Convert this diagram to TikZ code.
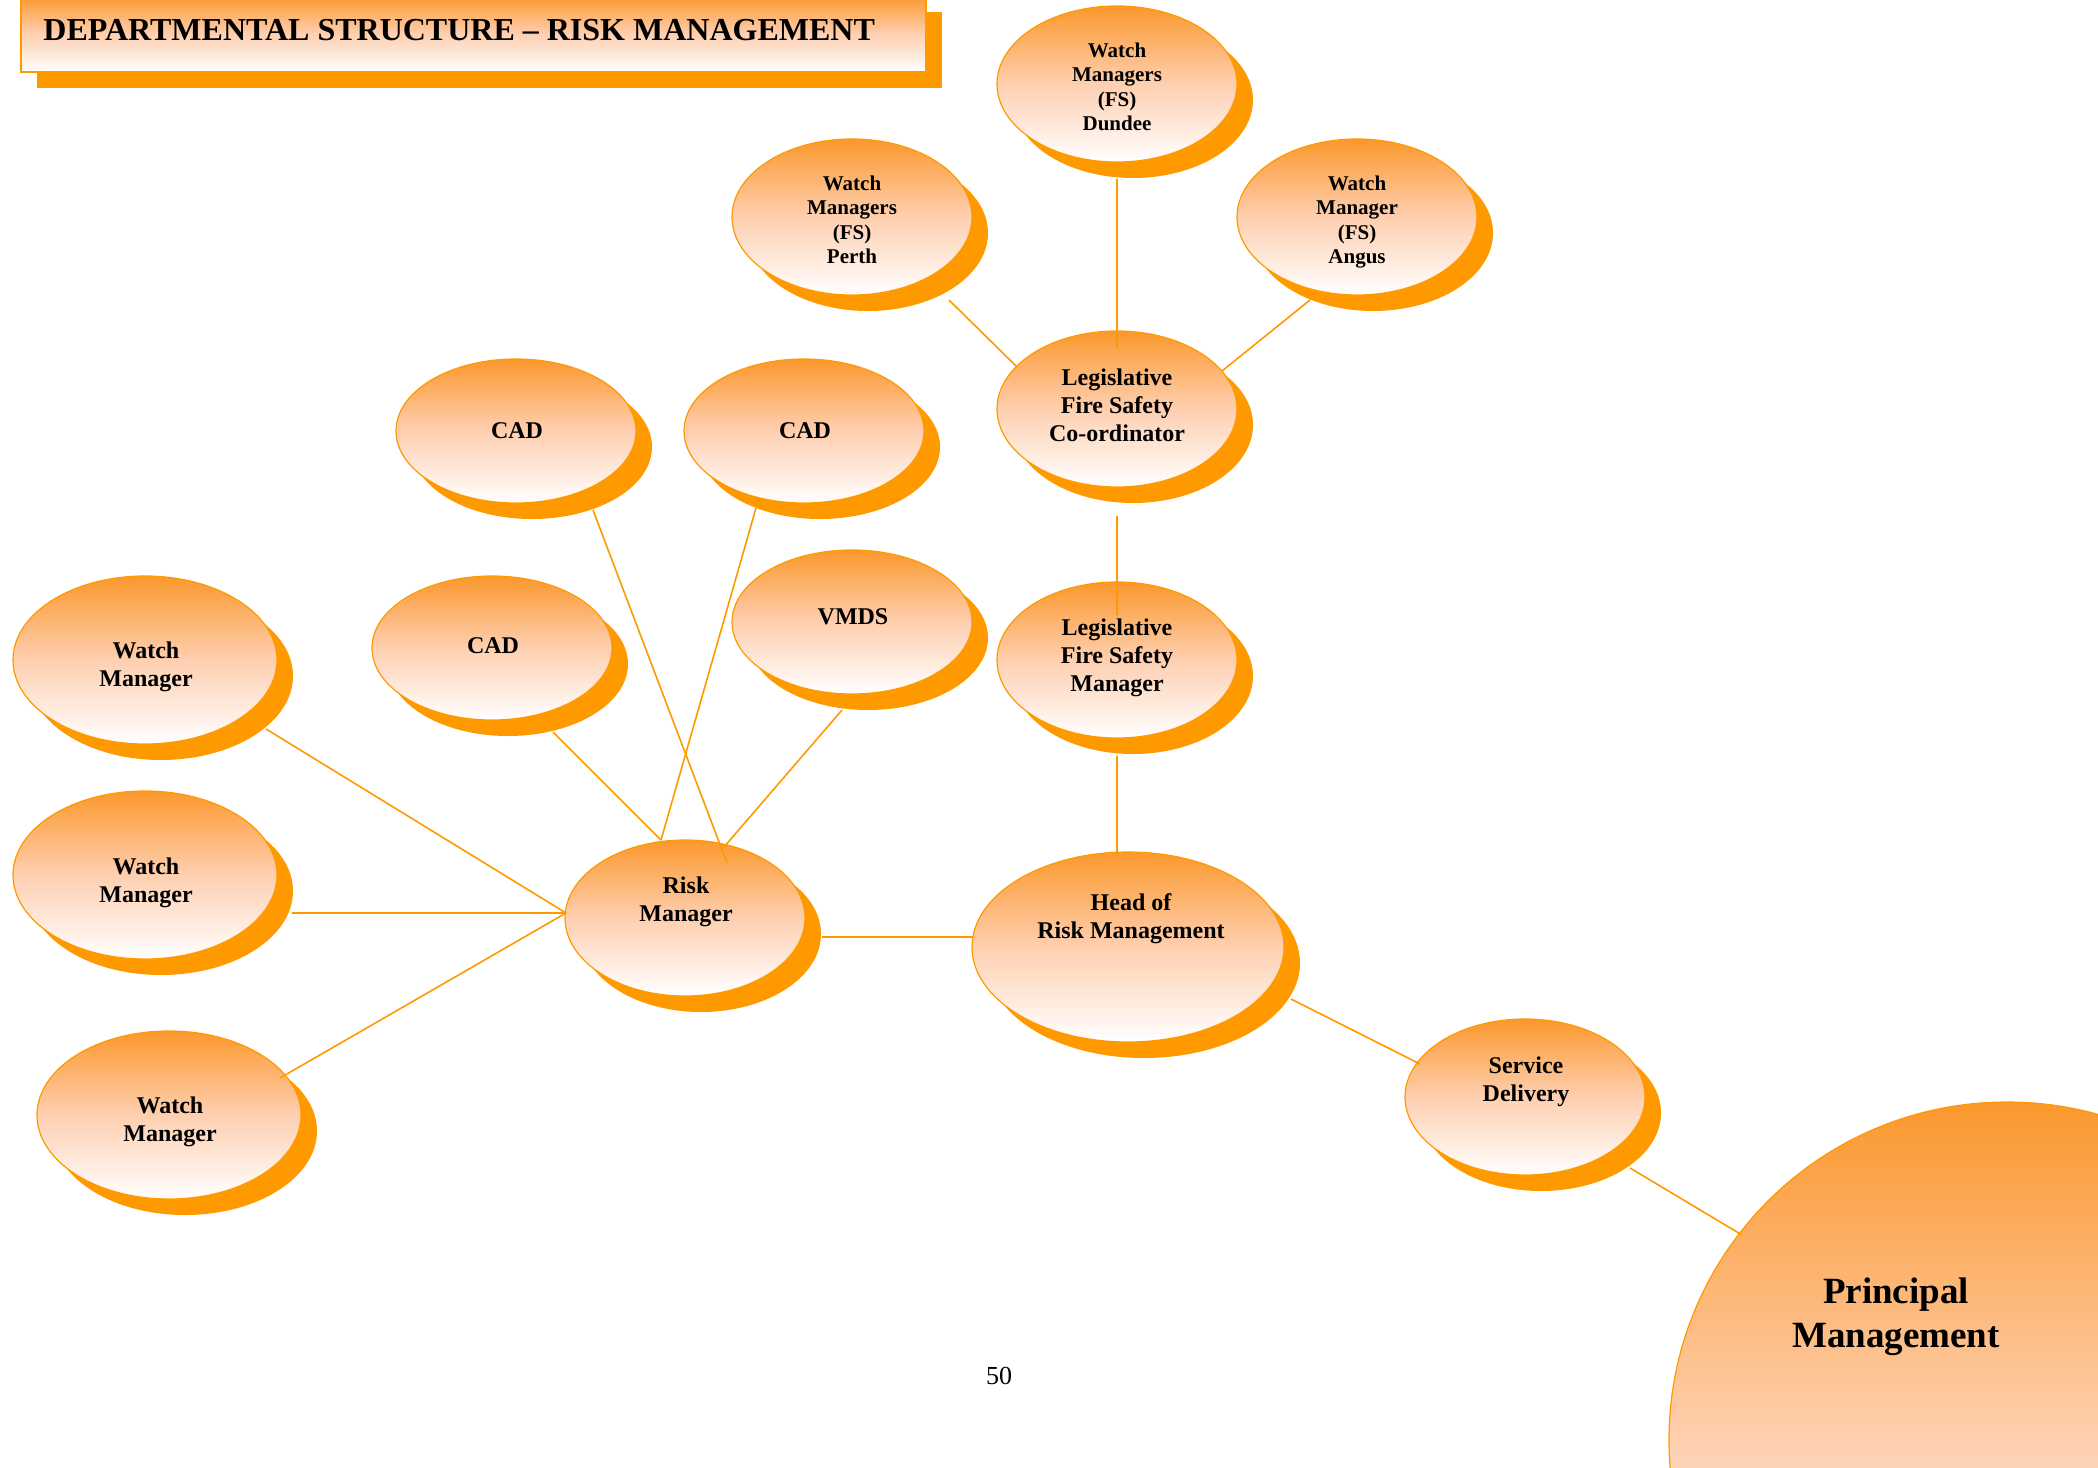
\documentclass[tikz,border=0pt]{standalone}
\usepackage{fontspec}
\setmainfont{Liberation Serif}
\usetikzlibrary{shapes.geometric,shadows}

\definecolor{orng}{RGB}{255,153,0}
\definecolor{otop}{RGB}{251,152,45}
\definecolor{peach}{RGB}{254,207,176}
\pgfdeclareverticalshading{bubble}{100bp}{color(0bp)=(white); color(25bp)=(white); color(50bp)=(peach); color(75bp)=(otop); color(100bp)=(otop)}

\tikzset{
  solidshadow/.style={general shadow={fill=orng, shadow xshift=8pt, shadow yshift=-8pt}},
  bubble/.style={ellipse, draw=orng, line width=0.6pt, shading=bubble, inner sep=0pt, solidshadow},
  std/.style={bubble, minimum width=120pt, minimum height=78pt},
  flat/.style={bubble, minimum width=120pt, minimum height=72pt},
  wide/.style={bubble, minimum width=132pt, minimum height=84pt},
  big/.style={bubble, minimum width=156pt, minimum height=95pt},
  lbl/.style={font=\bfseries\fontsize{12}{14}\selectfont, align=center, inner sep=0pt},
  lblsmall/.style={font=\bfseries\fontsize{10.5}{12.2}\selectfont, align=center, inner sep=0pt},
  link/.style={draw=orng, line width=0.8pt}
}

\begin{document}
\begin{tikzpicture}[x=0.5pt,y=-0.5pt]
\useasboundingbox (0,0) rectangle (2098,1467);
\clip (0,0) rectangle (2098,1467);

% title banner
\node[rectangle, draw=orng, line width=0.6pt, shading=bubble, solidshadow,
      minimum width=452.5pt, minimum height=38pt, inner sep=0pt] (titlebox) at (473.5,34) {};
\node[anchor=base west, inner sep=0pt, font=\bfseries\fontsize{16}{18}\selectfont] (title) at (43,40)
  {DEPARTMENTAL STRUCTURE -- RISK MANAGEMENT};

% fire safety branch
\node[std] (dundee) at (1117,84) {};
\node[lblsmall] (dundeet) at (1117,87) {Watch\\Managers\\(FS)\\Dundee};
\node[std] (perth) at (852,217) {};
\node[lblsmall] (pertht) at (852,220) {Watch\\Managers\\(FS)\\Perth};
\node[std] (angus) at (1357,217) {};
\node[lblsmall] (angust) at (1357,222) {Watch\\Manager\\(FS)\\Angus};
\node[std] (coord) at (1117,409) {};
\node[lbl] (coordt) at (1117,405) {Legislative\\Fire Safety\\Co-ordinator};
\node[std] (lfsm) at (1117,660) {};
\node[lbl] (lfsmt) at (1117,658) {Legislative\\Fire Safety\\Manager};

% risk manager branch
\node[flat] (cad1) at (516,431) {};
\node[lbl] (cad1t) at (517,431) {CAD};
\node[flat] (cad2) at (804,431) {};
\node[lbl] (cad2t) at (805,431) {CAD};
\node[flat] (vmds) at (852,622) {};
\node[lbl] (vmdst) at (853,617) {VMDS};
\node[flat] (cad3) at (492,648) {};
\node[lbl] (cad3t) at (493,646) {CAD};
\node[wide] (wm1) at (145,660) {};
\node[lbl] (wm1t) at (146,667) {Watch\\Manager};
\node[wide] (wm2) at (145,875) {};
\node[lbl] (wm2t) at (146,883) {Watch\\Manager};
\node[wide] (wm3) at (169,1115) {};
\node[lbl] (wm3t) at (170,1122) {Watch\\Manager};
\node[std] (risk) at (685,918) {};
\node[lbl] (riskt) at (686,902) {Risk\\Manager};

% upper management
\node[big] (head) at (1128,947) {};
\node[lbl] (headt) at (1131,919) {Head of\\Risk Management};
\node[std] (service) at (1525,1097) {};
\node[lbl] (servicet) at (1526,1082) {Service\\Delivery};
\node[circle, draw=orng, line width=0.6pt, shading=bubble, minimum size=338pt, inner sep=0pt] (principal) at (2007,1440) {};
\node[font=\bfseries\fontsize{18.5}{22}\selectfont, align=center, inner sep=0pt] (principalt) at (1896,1317) {Principal\\Management};

% connectors
\draw[link] ([shift={(0,95)}]dundee.center) -- ([shift={(0,-61)}]coord.center);
\draw[link] ([shift={(97,83)}]perth.center) -- ([shift={(-100,-42)}]coord.center);
\draw[link] ([shift={(-47,83)}]angus.center) -- ([shift={(105,-38)}]coord.center);
\draw[link] ([shift={(0,107)}]coord.center) -- ([shift={(0,-45)}]lfsm.center);
\draw[link] ([shift={(0,96)}]lfsm.center) -- ([shift={(-11,-95)}]head.center);
\draw[link] ([shift={(77,79)}]cad1.center) -- ([shift={(42,-55)}]risk.center);
\draw[link] ([shift={(-48,77)}]cad2.center) -- ([shift={(-24,-78)}]risk.center);
\draw[link] ([shift={(-10,88)}]vmds.center) -- ([shift={(39,-71)}]risk.center);
\draw[link] ([shift={(61,84)}]cad3.center) -- ([shift={(-24,-78)}]risk.center);
\draw[link] ([shift={(121,69)}]wm1.center) -- ([shift={(-119,-5)}]risk.center);
\draw[link] ([shift={(147,38)}]wm2.center) -- ([shift={(-119,-5)}]risk.center);
\draw[link] ([shift={(111,-37)}]wm3.center) -- ([shift={(-119,-5)}]risk.center);
\draw[link] ([shift={(137,19)}]risk.center) -- ([shift={(-155,-10)}]head.center);
\draw[link] ([shift={(163,52)}]head.center) -- ([shift={(-105,-33)}]service.center);
\draw[link] ([shift={(105,71)}]service.center) -- ([shift={(-265,-205)}]principal.center);

% page number
\node[font=\fontsize{13}{15}\selectfont, inner sep=0pt] (pagenum) at (999,1376) {50};
\end{tikzpicture}
\end{document}
